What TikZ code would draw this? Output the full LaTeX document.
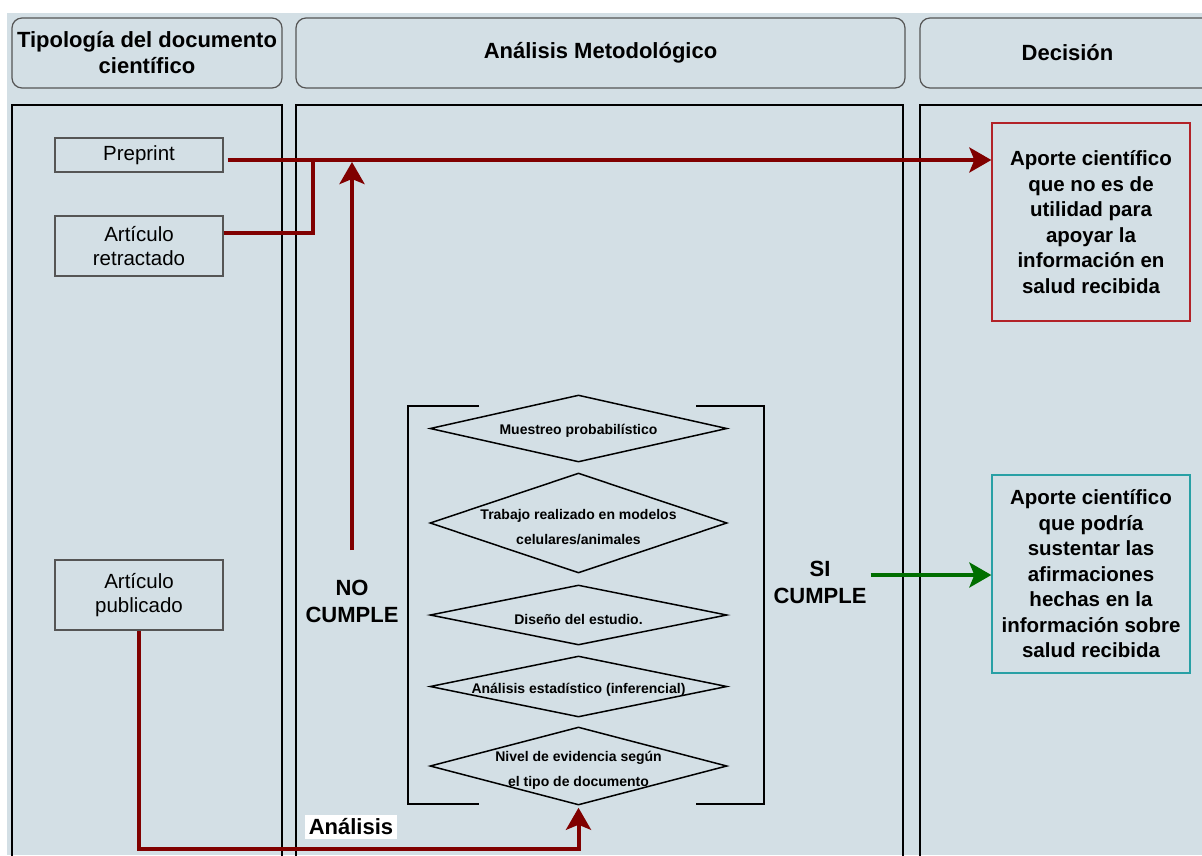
\documentclass[tikz,border=0pt]{standalone}
\usepackage{fontspec}
\setmainfont{Liberation Sans}
\usetikzlibrary{positioning,shapes.geometric,arrows.meta}
\definecolor{lanebg}{RGB}{211,223,229}
\definecolor{headgray}{RGB}{85,85,85}
\definecolor{flowred}{RGB}{128,0,0}
\definecolor{badred}{RGB}{178,34,40}
\definecolor{goodteal}{RGB}{40,160,165}
\definecolor{flowgreen}{RGB}{0,110,0}
\tikzset{every picture/.style={line width=1.5pt}}

\begin{document}
\begin{tikzpicture}[x=1pt, y=-1pt, >={Stealth[length=22pt, width=25pt, inset=5pt]},
    head/.style={draw=headgray, rounded corners=10pt, line width=1.2pt, align=center,
        font=\fontsize{22}{26}\selectfont\bfseries, minimum height=70pt},
    lane/.style={draw, line width=1.8pt},
    docbox/.style={draw=headgray, line width=1.3pt, minimum width=168pt, align=center,
        font=\fontsize{20.5}{24}\selectfont},
    outbox/.style={draw, line width=1.3pt, minimum width=198pt, minimum height=198pt,
        align=center, font=\fontsize{20.5}{25.5}\selectfont\bfseries},
    diam/.style={diamond, draw, line width=1.5pt, inner sep=0pt, minimum width=297pt, minimum height=#1},
    dtext/.style={align=center, font=\fontsize{14}{25}\selectfont\bfseries},
    lbl/.style={align=center, font=\fontsize{22}{27}\selectfont\bfseries},
    redline/.style={draw=flowred, line width=4pt},
    redarrow/.style={redline, ->},
    greenarrow/.style={draw=flowgreen, line width=4pt, ->}]
        \useasboundingbox (0,0) rectangle (1202,855);
        \clip (0,0) rectangle (1202,855);
        \fill[lanebg] (7,13) rectangle (1202,855);
        \node[head, minimum width=270pt] (h1) at (147,53)    {Tipología del documento\\científico};
        \node[head, minimum width=609pt] (h2) at (600.5,53)  {Análisis Metodológico};
        \node[head, minimum width=295pt] (h3) at (1067.5,53) {Decisión};
        \draw[lane] (12,105)  rectangle (282,880);
        \draw[lane] (296,105) rectangle (903,880);
        \draw[lane] (920,105) rectangle (1220,880);
        \node[docbox, minimum height=34pt] (pre) at (139,155) {Preprint};
        \node[docbox, minimum height=60pt] (ret) at (139,246) {Artículo\\retractado};
        \node[docbox, minimum height=70pt] (pub) at (139,595) {Artículo\\publicado};
        \node[outbox, draw=badred]   (bad)  at (1091,222) {Aporte científico\\que no es de\\utilidad para\\apoyar la\\información en\\salud recibida};
        \node[outbox, draw=goodteal] (good) at (1091,574) {Aporte científico\\que podría\\sustentar las\\afirmaciones\\hechas en la\\información sobre\\salud recibida};
        \node[diam=67pt]  (d1) at (578.5,428.5) {};
        \node[diam=100pt] (d2) at (578.5,523)   {};
        \node[diam=60pt]  (d3) at (578.5,615)   {};
        \node[diam=61pt]  (d4) at (578.5,686.5) {};
        \node[diam=78pt]  (d5) at (578.5,766)   {};
        \node[dtext] (t1) at ([yshift=-2pt]d1) {Muestreo probabilístico};
        \node[dtext] (t2) at ([yshift=-4pt]d2) {Trabajo realizado en modelos\\celulares/animales};
        \node[dtext] (t3) at ([yshift=-4pt]d3) {Diseño del estudio.};
        \node[dtext] (t4) at ([yshift=-3pt]d4) {Análisis estadístico (inferencial)};
        \node[dtext] (t5) at ([yshift=-4pt]d5) {Nivel de evidencia según\\el tipo de documento};
        \draw[line width=2.5pt] (479,406) -- (408,406) -- (408,804) -- (479,804);
        \draw[line width=2.5pt] (696,406) -- (764,406) -- (764,804) -- (696,804);
        \node[lbl] (no) at (352,601) {NO\\CUMPLE};
        \node[lbl] (si) at (820,582) {SI\\CUMPLE};
        \node[lbl, fill=white, inner sep=4pt] (ana) at (351,827) {Análisis};
        \coordinate (j) at (313,160);
        \coordinate (nobase) at (352,550);
        \draw[redarrow, shorten <=4pt] ([yshift=-5pt]pre.east) -- ([yshift=-5pt]pre.east -| bad.west);
        \draw[redline] ([yshift=13pt]ret.east) -| (j);
        \draw[redarrow, shorten >=2pt] (nobase) -- (nobase |- j);
        \draw[redarrow, shorten >=2pt] (pub.south) -- ++(0,218) -| (d5.south);
        \draw[greenarrow] ([yshift=7pt]si.east) -- ([yshift=7pt]si.east -| good.west);
    \end{tikzpicture}
\end{document}
